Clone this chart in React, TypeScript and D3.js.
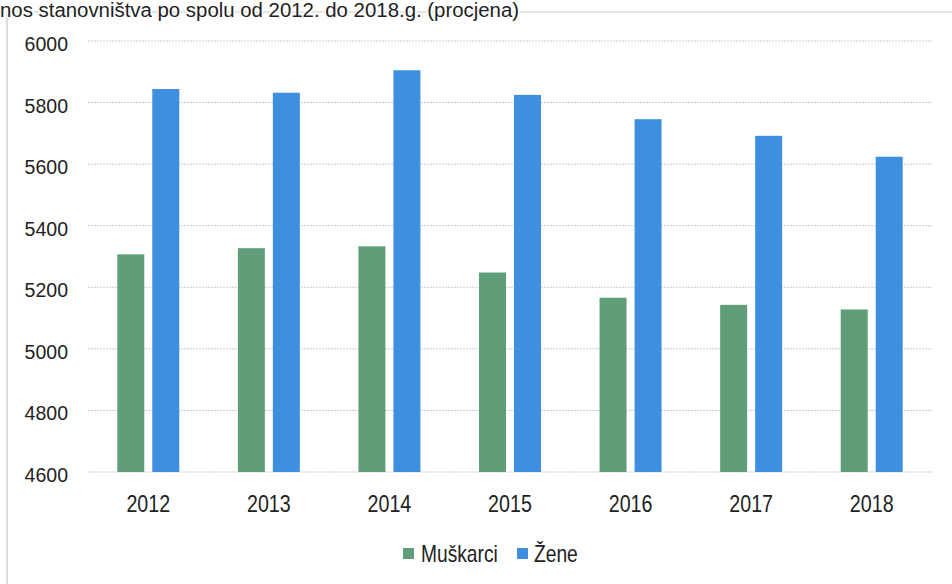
import React from "react";
import * as d3 from "d3";

const categories = ["2012", "2013", "2014", "2015", "2016", "2017", "2018"];
const muskarci = [5307, 5327, 5333, 5248, 5166, 5143, 5128];
const zene = [5844, 5832, 5905, 5825, 5746, 5692, 5624];
const yTicks = [4600, 4800, 5000, 5200, 5400, 5600, 5800, 6000];
const seriesNames = ["Muškarci", "Žene"];
const colors = ["#5f9e79", "#3f8fe0"];

const W = 952, H = 584;
const left = 88, right = 932, top = 41, bottom = 472;

function T(props: { x: number; y: number; size: number; sx: number; anchor?: string; children: React.ReactNode }) {
  return (
    <text
      transform={`translate(${props.x},${props.y}) scale(${props.sx},1)`}
      fontSize={props.size}
      textAnchor={props.anchor || "start"}
      fill="#222"
    >
      {props.children}
    </text>
  );
}

export default function App() {
  const x = d3.scaleBand<string>().domain(categories).range([left, right]).paddingInner(0).paddingOuter(0);
  const y = d3.scaleLinear().domain([4600, 6000]).range([bottom, top]);
  const barW = 27;
  const gap = 8;
  const series = [muskarci, zene];
  const font = "'Liberation Sans', Arial, sans-serif";
  return (
    <svg width={W} height={H} style={{ position: "absolute", left: 0, top: 0, background: "#fff" }} fontFamily={font}>
      <rect x={0} y={0} width={W} height={H} fill="#fff" />
      <line x1={7} x2={7} y1={12} y2={H} stroke="#bbb" strokeWidth={1} />
      <line x1={7} x2={W} y1={12} y2={12} stroke="#cfcfcf" strokeWidth={1} />
      <text x={0} y={17} fontSize={20} fill="#222" stroke="#fff" strokeWidth={3} paintOrder="stroke" transform="scale(1.02,1)">
        nos stanovništva po spolu od 2012. do 2018.g. (procjena)
      </text>
      {yTicks.map((t) => (
        <g key={t}>
          <line x1={left} x2={right} y1={y(t)} y2={y(t)} stroke="#cbcbcb" strokeWidth={1} strokeDasharray="2,1" />
          <T x={68} y={y(t) + 10} size={21} sx={0.93} anchor="end">{t}</T>
        </g>
      ))}
      {categories.map((c, i) => {
        const cx = (x(c) as number) + x.bandwidth() / 2;
        return (
          <g key={c}>
            {series.map((s, j) => {
              const bx = j === 0 ? cx - gap / 2 - barW : cx + gap / 2;
              return (
                <rect key={j} x={bx} y={y(s[i])} width={barW} height={y(4600) - y(s[i])} fill={colors[j]} />
              );
            })}
            <T x={cx} y={512} size={24} sx={0.82} anchor="middle">{c}</T>
          </g>
        );
      })}
      <g>
        <rect x={403} y={548} width={11} height={11} fill={colors[0]} />
        <T x={421} y={562} size={24} sx={0.8}>{seriesNames[0]}</T>
        <rect x={517} y={548} width={11} height={11} fill={colors[1]} />
        <T x={534} y={562} size={24} sx={0.8}>{seriesNames[1]}</T>
      </g>
    </svg>
  );
}
